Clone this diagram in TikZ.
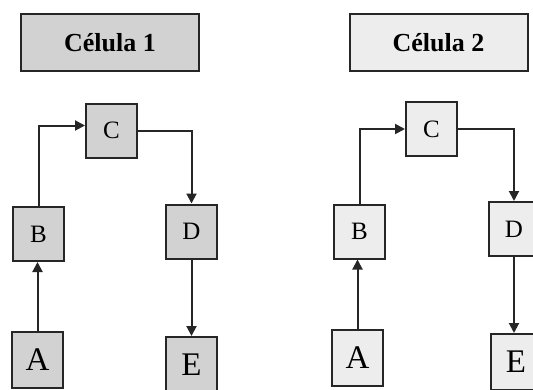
\documentclass[tikz,border=0pt]{standalone}
\usepackage{fontspec}
\setmainfont{Liberation Serif}
\usetikzlibrary{arrows.meta}
\definecolor{grayA}{HTML}{D2D2D2}
\definecolor{grayB}{HTML}{EDEDED}
\definecolor{edge}{HTML}{262626}
\begin{document}
\begin{tikzpicture}[x=1pt,y=-1pt,
  box/.style={draw=edge,line width=2pt,minimum width=51pt,minimum height=54pt,inner sep=0pt,font=\fontsize{25}{25}\selectfont},
  bigbox/.style={box,minimum height=56pt,font=\fontsize{33}{33}\selectfont},
  titlebox/.style={draw=edge,line width=2pt,minimum width=178pt,minimum height=57pt,inner sep=0pt,font=\fontsize{26}{26}\selectfont\bfseries},
  cellA/.style={fill=grayA},
  cellB/.style={fill=grayB},
  link/.style={line width=2pt,draw=edge,-{Triangle[length=10pt,width=10pt]}}]
\useasboundingbox (0,0) rectangle (533,389);
\clip (0,0) rectangle (533,389);
% Cell 1
\node[titlebox,cellA] (T1) at (110,42.5) {Célula 1};
\node[box,cellA] (C1) at (111.5,130.5) {C};
\node[box,cellA] (B1) at (38.5,234) {B};
\node[box,cellA] (D1) at (191.5,231.5) {D};
\node[bigbox,cellA] (A1) at (37.5,360) {A};
\node[bigbox,cellA] (E1) at (191.5,365) {E};
\draw[link] (B1.north) |- ([yshift=5pt]C1.west);
\draw[link] (C1.east) -| (D1.north);
\draw[link] (A1.north) -- (A1.north |- B1.south);
\draw[link] (D1.south) -- (D1.south |- E1.north);
% Cell 2
\node[titlebox,cellB] (T2) at (438.5,42.5) {Célula 2};
\node[box,cellB] (C2) at (431.5,129) {C};
\node[box,cellB] (B2) at (359.5,231.5) {B};
\node[box,cellB] (D2) at (514,229) {D};
\node[bigbox,cellB] (A2) at (357.5,358) {A};
\node[bigbox,cellB] (E2) at (516,362) {E};
\draw[link] (B2.north) |- (C2.west);
\draw[link] (C2.east) -| (D2.north);
\draw[link] (A2.north) -- (A2.north |- B2.south);
\draw[link] (D2.south) -- (D2.south |- E2.north);
\end{tikzpicture}
\end{document}
